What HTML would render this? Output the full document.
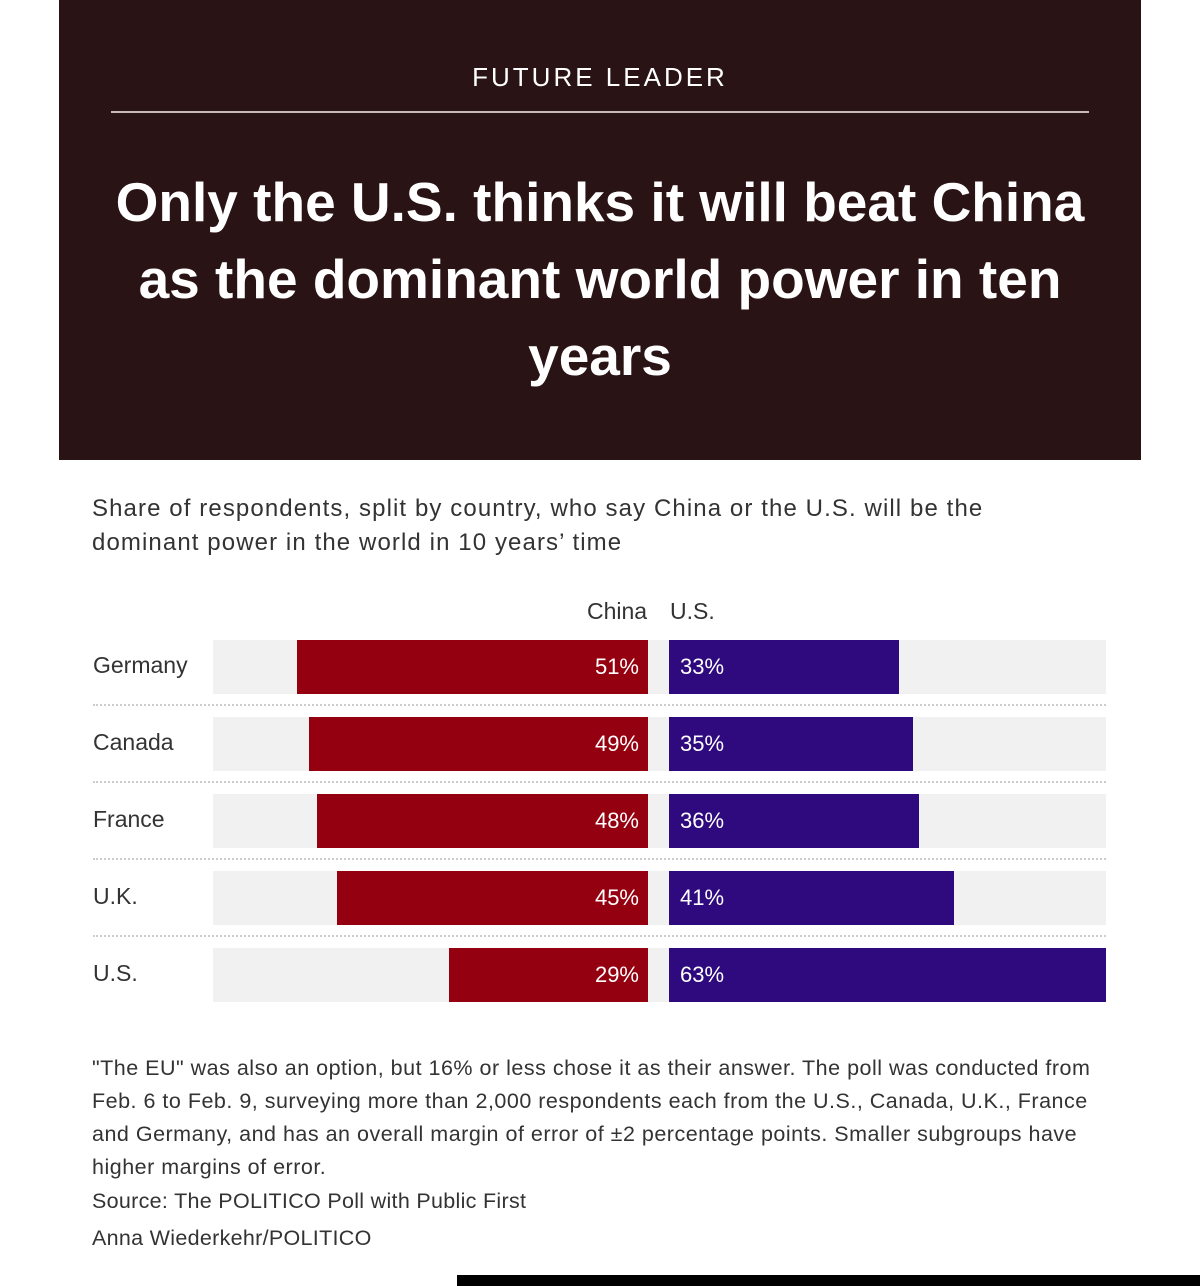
<!DOCTYPE html>
<html><head><meta charset="utf-8"><style>
*{margin:0;padding:0;box-sizing:border-box}
body{width:1200px;height:1286px;background:#fff;position:relative;overflow:hidden;font-family:"Liberation Sans",sans-serif;color:#222}
.hdr{position:absolute;left:59px;top:0;width:1082px;height:460px;background:#291314}
.kick{position:absolute;left:0;width:1082px;top:62px;text-align:center;color:#fff;font-size:26px;letter-spacing:3px}
.rule{position:absolute;left:52px;top:111px;width:978px;height:2px;background:#c9b8ba}
.title{position:absolute;left:0;width:1082px;top:164px;text-align:center;color:#fff;font-weight:bold;font-size:55px;line-height:77px;letter-spacing:0}
.sub{position:absolute;left:92px;top:492px;font-size:24px;line-height:34px;color:#333;white-space:nowrap;letter-spacing:1.1px}
.hd{position:absolute;top:598px;font-size:23px;color:#333}
.lab{position:absolute;left:93px;font-size:23px;color:#333}
.bg{position:absolute;left:213px;width:893px;height:54px;background:#f1f1f1}
.r{position:absolute;height:54px;background:#950010;color:#fff;font-size:22px;text-align:right;padding-right:9px;line-height:54px}
.p{position:absolute;left:669px;height:54px;background:#2e0a7e;color:#fff;font-size:22px;padding-left:11px;line-height:54px}
.sep{position:absolute;left:93px;width:1013px;border-top:2px dotted #ccc}
.note{position:absolute;left:92px;top:1052px;font-size:21.5px;line-height:33px;color:#333;white-space:nowrap;letter-spacing:0.5px}
.src{position:absolute;left:92px;font-size:21.5px;color:#333;letter-spacing:0.3px}
.bar{position:absolute;left:457px;top:1275px;width:743px;height:11px;background:#000}
</style></head><body>
<div class="hdr">
<div class="kick">FUTURE LEADER</div>
<div class="rule"></div>
<div class="title">Only the U.S. thinks it will beat China<br>as the dominant world power in ten<br>years</div>
</div>
<div class="sub">Share of respondents, split by country, who say China or the U.S. will be the<br>dominant power in the world in 10 years’ time</div>
<div class="hd" style="left:587px">China</div>
<div class="hd" style="left:670px">U.S.</div>

<div class="lab" style="top:652px">Germany</div>
<div class="bg" style="top:640px"></div>
<div class="r" style="top:640px;left:297px;width:351px">51%</div>
<div class="p" style="top:640px;width:230px">33%</div>
<div class="sep" style="top:704px"></div>

<div class="lab" style="top:729px">Canada</div>
<div class="bg" style="top:717px"></div>
<div class="r" style="top:717px;left:309px;width:339px">49%</div>
<div class="p" style="top:717px;width:244px">35%</div>
<div class="sep" style="top:781px"></div>

<div class="lab" style="top:806px">France</div>
<div class="bg" style="top:794px"></div>
<div class="r" style="top:794px;left:317px;width:331px">48%</div>
<div class="p" style="top:794px;width:250px">36%</div>
<div class="sep" style="top:858px"></div>

<div class="lab" style="top:883px">U.K.</div>
<div class="bg" style="top:871px"></div>
<div class="r" style="top:871px;left:337px;width:311px">45%</div>
<div class="p" style="top:871px;width:285px">41%</div>
<div class="sep" style="top:935px"></div>

<div class="lab" style="top:960px">U.S.</div>
<div class="bg" style="top:948px"></div>
<div class="r" style="top:948px;left:449px;width:199px">29%</div>
<div class="p" style="top:948px;width:437px">63%</div>

<div class="note">"The EU" was also an option, but 16% or less chose it as their answer. The poll was conducted from<br>Feb. 6 to Feb. 9, surveying more than 2,000 respondents each from the U.S., Canada, U.K., France<br>and Germany, and has an overall margin of error of ±2 percentage points. Smaller subgroups have<br>higher margins of error.</div>
<div class="src" style="top:1189px">Source: The POLITICO Poll with Public First</div>
<div class="src" style="top:1226px">Anna Wiederkehr/POLITICO</div>
<div class="bar"></div>
</body></html>
